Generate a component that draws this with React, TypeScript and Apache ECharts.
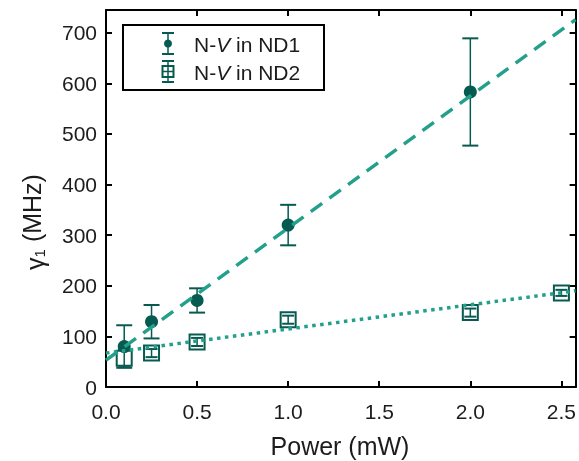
import React, { useEffect, useRef } from "react";
import * as echarts from "echarts";

// ---- data ----
const powerND1 = [0.1, 0.25, 0.5, 1.0, 2.0];
const gammaND1 = [80, 129, 171, 320, 583];
const errND1 = [42, 33, 24, 40, 106];

const powerND2 = [0.1, 0.25, 0.5, 1.0, 2.0, 2.5];
const gammaND2 = [57, 67, 89, 133, 147, 186];
const errND2 = [18, 8, 8, 8, 8, 6];

// fit lines (endpoints)
const fitND1X = [0, 2.578];
const fitND1Y = [53, 726];
const fitND2X = [0, 2.578];
const fitND2Y = [67, 190];

const xTicks = [0, 0.5, 1.0, 1.5, 2.0, 2.5];
const yTicks = [0, 100, 200, 300, 400, 500, 600, 700];

const DARK = "#075a4f";
const LINE = "#22a08b";
const TEXT = "#1c1c1c";
const FONT = "Liberation Sans, Arial, sans-serif";

export default function App() {
  const ref = useRef<HTMLDivElement>(null);
  useEffect(() => {
    if (!ref.current) return;
    const chart = echarts.init(ref.current, undefined, { renderer: "svg" });

    const errRender = (hw: number) => (params: any, api: any) => {
      const x = api.value(0);
      const y = api.value(1);
      const e = api.value(2);
      const t = api.coord([x, y + e]);
      const b = api.coord([x, y - e]);
      return {
        type: "group",
        children: [
          { type: "line", shape: { x1: t[0], y1: t[1], x2: b[0], y2: b[1] }, style: { stroke: DARK, lineWidth: 1.5 } },
          { type: "line", shape: { x1: t[0] - hw, y1: t[1], x2: t[0] + hw, y2: t[1] }, style: { stroke: DARK, lineWidth: 2 } },
          { type: "line", shape: { x1: b[0] - hw, y1: b[1], x2: b[0] + hw, y2: b[1] }, style: { stroke: DARK, lineWidth: 2 } },
        ],
      };
    };

    const xMax = 2.578;
    const yMax = 745;

    const axisCommon = {
      axisLine: { show: true, onZero: false, lineStyle: { color: "#000", width: 2 } },
      axisTick: { show: true, inside: true, length: 6, lineStyle: { color: "#000", width: 2 } },
      splitLine: { show: false },
    };

    chart.setOption({
      animation: false,
      grid: { left: 106, right: 2, top: 10, bottom: 74 },
      xAxis: [
        {
          type: "value", min: 0, max: xMax, interval: 0.5, ...axisCommon,
          axisLabel: {
            show: true, margin: 14, fontSize: 21, color: TEXT, fontFamily: FONT, showMaxLabel: false,
            formatter: (v: number) => (xTicks.some((t) => Math.abs(t - v) < 1e-6) ? v.toFixed(1) : ""),
          },
        },
        {
          type: "value", position: "top", min: 0, max: xMax, interval: 0.5, ...axisCommon,
          axisLabel: { show: false },
        },
      ],
      yAxis: [
        {
          type: "value", min: 0, max: yMax, interval: 100, ...axisCommon,
          axisLabel: {
            show: true, margin: 9, fontSize: 21, color: TEXT, fontFamily: FONT, showMaxLabel: false,
            formatter: (v: number) => (yTicks.includes(v) ? String(v) : ""),
          },
        },
        {
          type: "value", position: "right", min: 0, max: yMax, interval: 100, ...axisCommon,
          axisLabel: { show: false },
        },
      ],
      series: [
        {
          type: "custom", name: "errND1", z: 1,
          renderItem: errRender(8),
          data: powerND1.map((x, i) => [x, gammaND1[i], errND1[i]]),
        },
        {
          type: "scatter", name: "sqND2", z: 2, symbol: "rect", symbolSize: 15,
          itemStyle: { color: "#fff", borderColor: DARK, borderWidth: 2, opacity: 1 },
          data: powerND2.map((x, i) => [x, gammaND2[i]]),
        },
        {
          type: "custom", name: "errND2", z: 3,
          renderItem: errRender(6),
          data: powerND2.map((x, i) => [x, gammaND2[i], errND2[i]]),
        },
        {
          type: "scatter", name: "ND1", z: 4, symbol: "circle", symbolSize: 13,
          itemStyle: { color: DARK, opacity: 1 },
          data: powerND1.map((x, i) => [x, gammaND1[i]]),
        },
        {
          type: "line", name: "fitND1", z: 5, showSymbol: false, symbol: "none",
          lineStyle: { color: LINE, width: 3.5, type: [14, 9], cap: "butt" },
          data: fitND1X.map((x, i) => [x, fitND1Y[i]]),
        },
        {
          type: "line", name: "fitND2", z: 5, showSymbol: false, symbol: "none",
          lineStyle: { color: LINE, width: 3.5, type: [3.5, 4.5], cap: "butt" },
          data: fitND2X.map((x, i) => [x, fitND2Y[i]]),
        },
      ],
      graphic: [
        // legend
        { type: "rect", z: 10, shape: { x: 123, y: 25, width: 201, height: 65 }, style: { fill: "#fff", stroke: "#000", lineWidth: 2 } },
        { type: "line", z: 11, shape: { x1: 168, y1: 33, x2: 168, y2: 54 }, style: { stroke: DARK, lineWidth: 1.5 } },
        { type: "line", z: 11, shape: { x1: 162, y1: 33, x2: 174, y2: 33 }, style: { stroke: DARK, lineWidth: 2 } },
        { type: "line", z: 11, shape: { x1: 162, y1: 54, x2: 174, y2: 54 }, style: { stroke: DARK, lineWidth: 2 } },
        { type: "circle", z: 11, shape: { cx: 168, cy: 43.5, r: 4 }, style: { fill: DARK } },
        { type: "rect", z: 11, shape: { x: 162.5, y: 66, width: 11, height: 11 }, style: { fill: "#fff", stroke: DARK, lineWidth: 2 } },
        { type: "line", z: 12, shape: { x1: 168, y1: 61, x2: 168, y2: 82 }, style: { stroke: DARK, lineWidth: 1.5 } },
        { type: "line", z: 12, shape: { x1: 162, y1: 61, x2: 174, y2: 61 }, style: { stroke: DARK, lineWidth: 2 } },
        { type: "line", z: 12, shape: { x1: 162, y1: 82, x2: 174, y2: 82 }, style: { stroke: DARK, lineWidth: 2 } },
        { type: "line", z: 12, shape: { x1: 163, y1: 71.5, x2: 173, y2: 71.5 }, style: { stroke: DARK, lineWidth: 1.5 } },
        {
          type: "text", z: 11, x: 194, y: 44,
          style: {
            text: "N-{i|V} in ND1", fill: TEXT, font: `21px ${FONT}`, verticalAlign: "middle",
            rich: { i: { fontStyle: "italic", fontSize: 21, fontFamily: FONT, fill: TEXT } },
          },
        },
        {
          type: "text", z: 11, x: 194, y: 72,
          style: {
            text: "N-{i|V} in ND2", fill: TEXT, font: `21px ${FONT}`, verticalAlign: "middle",
            rich: { i: { fontStyle: "italic", fontSize: 21, fontFamily: FONT, fill: TEXT } },
          },
        },
        // axis titles
        {
          type: "text", x: 340, y: 446,
          style: { text: "Power (mW)", fill: TEXT, font: `25px ${FONT}`, align: "center", verticalAlign: "middle" },
        },
        {
          type: "text", x: 32, y: 222, rotation: Math.PI / 2,
          style: {
            text: "{g|γ}{s|1} (MHz)", fill: TEXT, font: `25px ${FONT}`, align: "center", verticalAlign: "middle",
            rich: {
              g: { fontSize: 25, fontFamily: FONT, fill: TEXT, verticalAlign: "bottom", lineHeight: 30 },
              s: { fontSize: 15, fontFamily: FONT, fill: TEXT, verticalAlign: "bottom", lineHeight: 24 },
            },
          },
        },
      ],
    });
    return () => chart.dispose();
  }, []);
  return <div ref={ref} style={{ position: "fixed", left: 0, top: 0, width: 579, height: 461 }} />;
}
